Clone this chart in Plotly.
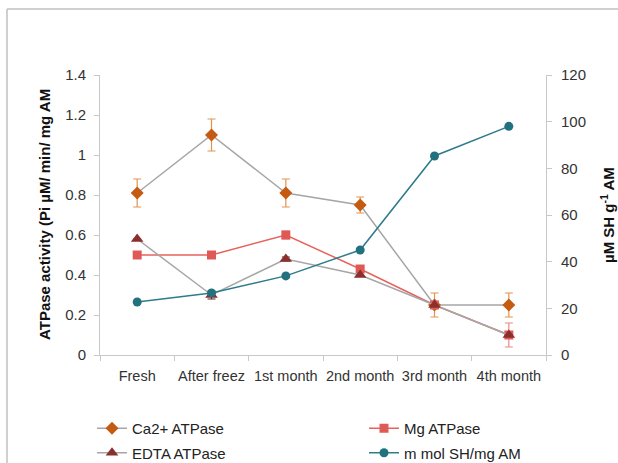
import plotly.graph_objects as go

categories = ["Fresh", "After freez", "1st month", "2nd month", "3rd month", "4th month"]
ca_atpase = [0.81, 1.10, 0.81, 0.75, 0.25, 0.25]
ca_err = [0.07, 0.08, 0.07, 0.04, 0.06, 0.06]
mg_atpase = [0.50, 0.50, 0.60, 0.43, 0.25, 0.10]
mg_err = [0.0, 0.0, 0.02, 0.0, 0.0, 0.06]
edta_atpase = [0.58, 0.30, 0.48, 0.40, 0.25, 0.10]
edta_err = [0.0, 0.02, 0.01, 0.0, 0.0, 0.0]
sh_values = [22.7, 26.6, 33.9, 45.0, 85.3, 98.0]

W, H = 618, 463
L, R, T, B = 100, 72, 75, 108
PW, PH = W - L - R, H - T - B

def px_x(x):
    return (x - L) / PW

def px_y(y):
    return (H - B - y) / PH

font_family = "Liberation Sans, Arial, sans-serif"
gray_line = "#A6A6A6"

fig = go.Figure()
fig.add_trace(go.Scatter(
    x=categories, y=ca_atpase, name="Ca2+ ATPase", mode="lines+markers",
    line=dict(color=gray_line, width=1.5),
    marker=dict(symbol="diamond", size=10, color="#C55A11"),
    error_y=dict(type="data", array=ca_err, color="#E39350", thickness=1.2, width=4),
    legend="legend", legendgroup="ca",
))
fig.add_trace(go.Scatter(
    x=categories, y=mg_atpase, name="Mg ATPase", mode="lines+markers",
    line=dict(color="#E8625C", width=1.5),
    marker=dict(symbol="square", size=9, color="#E05A55"),
    error_y=dict(type="data", array=mg_err, color="#EC8A86", thickness=1.2, width=4),
    legend="legend2", legendgroup="mg",
))
fig.add_trace(go.Scatter(
    x=categories, y=edta_atpase, name="EDTA ATPase", mode="lines+markers",
    line=dict(color=gray_line, width=1.5),
    marker=dict(symbol="triangle-up", size=11, color="#8B2E2E"),
    error_y=dict(type="data", array=edta_err, color="#6B2020", thickness=1.2, width=4),
    legend="legend", legendgroup="edta",
))
fig.add_trace(go.Scatter(
    x=categories, y=sh_values, name="m mol SH/mg AM", mode="lines+markers",
    line=dict(color="#2E7B8C", width=1.5),
    marker=dict(symbol="circle", size=9, color="#22717F"),
    yaxis="y2",
    legend="legend2", legendgroup="sh",
))

axis_common = dict(
    showline=True, linecolor="#C8C8C8", linewidth=1,
    ticks="outside", ticklen=5, tickcolor="#C8C8C8",
    showgrid=False, zeroline=False, automargin=False,
    tickfont=dict(family=font_family, size=15, color="#333333"),
)

legend_common = dict(xanchor="left", yanchor="top", orientation="v",
                     bgcolor="rgba(0,0,0,0)", tracegroupgap=2,
                     font=dict(family=font_family, size=15, color="#222222"))

fig.update_layout(
    width=W, height=H,
    margin=dict(l=L, r=R, t=T, b=B, autoexpand=False),
    paper_bgcolor="white", plot_bgcolor="white",
    font=dict(family=font_family, size=15, color="#222222"),
    xaxis=dict(**{**axis_common, "tickfont": dict(family=font_family, size=14.5, color="#333333")},
               type="category", tickson="boundaries", tickangle=0,
               range=[-0.5, 5.5], ticklabelstandoff=8),
    yaxis=dict(**axis_common, range=[0, 1.4], dtick=0.2, ticklabelstandoff=5,
               tickformat="~g"),
    yaxis2=dict(**axis_common, range=[0, 120], dtick=20, overlaying="y", side="right",
                ticklabelstandoff=6),
    legend=dict(x=px_x(92), y=px_y(412), **legend_common),
    legend2=dict(x=px_x(364), y=px_y(412), **legend_common),
    showlegend=True,
    annotations=[
        dict(text="<b>ATPase activity (Pi µM/ min/ mg AM</b>", textangle=-90,
             xref="paper", yref="paper", x=px_x(44), y=px_y(215),
             xanchor="center", yanchor="middle", showarrow=False,
             font=dict(family=font_family, size=15, color="#111111")),
        dict(text="<b>µM SH g<sup>-1</sup> AM</b>", textangle=-90,
             xref="paper", yref="paper", x=px_x(607), y=px_y(215),
             xanchor="center", yanchor="middle", showarrow=False,
             font=dict(family=font_family, size=15, color="#111111")),
    ],
    shapes=[
        dict(type="line", xref="paper", yref="paper",
             x0=px_x(7), x1=px_x(620), y0=px_y(9), y1=px_y(9),
             line=dict(color="#C0C0C0", width=1.5)),
        dict(type="line", xref="paper", yref="paper",
             x0=px_x(7), x1=px_x(7), y0=px_y(9), y1=px_y(470),
             line=dict(color="#C0C0C0", width=1.5)),
    ],
)

fig.write_html(
    "out.html",
    config={"displayModeBar": False},
    post_script="document.body.style.margin='0';document.body.style.overflow='hidden';",
)
